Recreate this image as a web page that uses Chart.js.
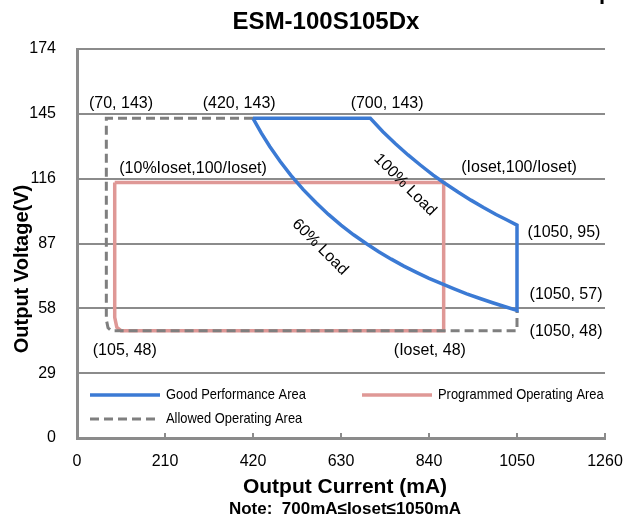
<!DOCTYPE html>
<html>
<head>
<meta charset="utf-8">
<script src="https://cdn.jsdelivr.net/npm/chart.js@4.4.1/dist/chart.umd.min.js"></script>
<style>
  html, body { margin: 0; padding: 0; background: #fff; }
  #wrap { width: 624px; height: 519px; }
</style>
</head>
<body>
<div id="wrap"><canvas id="soa-chart" width="624" height="519"></canvas></div>
<script>
var xTicks = [0, 210, 420, 630, 840, 1050, 1260];
var yTicks = [0, 29, 58, 87, 116, 145, 174];

var seriesNames = ['Good Performance Area', 'Programmed Operating Area', 'Allowed Operating Area'];

// good performance area: flat top, 100% load curve, 1050mA edge, 60% load curve back
var goodCurrent = [420, 560, 700, 730, 760, 790, 820, 850, 875, 910, 940, 970, 1000, 1025, 1050,
  1050, 1020, 990, 960, 930, 900, 870, 840, 810, 780, 750, 720, 690, 660, 630, 600, 570, 540, 510, 485, 460, 440, 420];
var goodVoltage = [143, 143, 143, 137, 131.6, 126.6, 122, 117.6, 114.3, 109.9, 106.4, 103.1, 100, 97.6, 95.2,
  57.1, 58.8, 60.6, 62.5, 64.5, 66.7, 69, 71.4, 74.1, 76.9, 80, 83.3, 87, 90.9, 95.2, 100, 105.3, 111.1, 117.6, 123.7, 130.4, 136.4, 143];

// programmed operating area (Ioset = 875 shown)
var progCurrent = [90, 875, 875, 105, 95, 90, 90];
var progVoltage = [114.3, 114.3, 48, 48, 49.5, 54, 114.3];

// allowed operating area
var allowCurrent = [420, 70, 70, 74, 82, 1050, 1050];
var allowVoltage = [143, 143, 53, 49.3, 48, 48, 57];

var pointLabels = [
  { text: '(70, 143)', x: 105, y: 149.4 },
  { text: '(420, 143)', x: 387, y: 149.4 },
  { text: '(700, 143)', x: 740, y: 149.8 },
  { text: '(10%Ioset,100/Ioset)', x: 277, y: 120.3 },
  { text: '(Ioset,100/Ioset)', x: 1055, y: 120.8 },
  { text: '(1050, 95)', x: 1162, y: 92.1 },
  { text: '(1050, 57)', x: 1167, y: 64 },
  { text: '(1050, 48)', x: 1167, y: 47.4 },
  { text: '(Ioset, 48)', x: 842, y: 38.9 },
  { text: '(105, 48)', x: 114, y: 38.9 },
  { text: '100% Load', x: 783, y: 113.2, rot: Math.PI / 4 },
  { text: '60% Load', x: 580, y: 85.4, rot: Math.PI / 4 }
];

var blue = '#3b7ad4';
var pink = '#df9896';
var gray = '#7f7f7f';
var gridGray = '#8b8b8b';

function pts(xs, ys) {
  return xs.map(function (x, i) { return { x: x, y: ys[i] }; });
}

var extras = {
  id: 'extras',
  afterDraw: function (chart) {
    var ctx = chart.ctx;
    var xs = chart.scales.x, ys = chart.scales.y;
    var area = chart.chartArea;
    ctx.save();

    // small inward tick marks on the x axis
    ctx.strokeStyle = gridGray;
    ctx.lineWidth = 2;
    xTicks.forEach(function (v) {
      var px = xs.getPixelForValue(v);
      ctx.beginPath();
      ctx.moveTo(px, area.bottom);
      ctx.lineTo(px, area.bottom - 5);
      ctx.stroke();
    });

    // point labels
    ctx.fillStyle = '#000';
    ctx.font = '16px "Liberation Sans", Arial, sans-serif';
    ctx.textAlign = 'center';
    ctx.textBaseline = 'middle';
    pointLabels.forEach(function (l) {
      var px = xs.getPixelForValue(l.x), py = ys.getPixelForValue(l.y);
      ctx.save();
      ctx.translate(px, py);
      if (l.rot) ctx.rotate(l.rot);
      ctx.fillText(l.text, 0, 0);
      ctx.restore();
    });

    // legend inside the plot (narrow text, squeezed horizontally)
    var legendPos = [[90, 395], [362, 395], [90, 419]];
    ctx.textAlign = 'left';
    chart.data.datasets.forEach(function (ds) {
      var i = seriesNames.indexOf(ds.label);
      var p = legendPos[i];
      ctx.strokeStyle = ds.borderColor;
      ctx.lineWidth = ds.borderWidth;
      ctx.setLineDash(ds.borderDash || []);
      ctx.beginPath();
      ctx.moveTo(p[0], p[1]);
      ctx.lineTo(p[0] + 70, p[1]);
      ctx.stroke();
      ctx.setLineDash([]);
      ctx.fillStyle = '#000';
      ctx.save();
      ctx.translate(p[0] + 76, p[1]);
      ctx.scale(0.86, 1);
      ctx.font = '15px "Liberation Sans", Arial, sans-serif';
      ctx.fillText(ds.label, 0, 0);
      ctx.restore();
    });

    // titles
    ctx.fillStyle = '#000';
    ctx.textAlign = 'center';
    ctx.font = 'bold 24px "Liberation Sans", Arial, sans-serif';
    ctx.fillText('ESM-100S105Dx', 326, 22);
    ctx.font = 'bold 21px "Liberation Sans", Arial, sans-serif';
    ctx.fillText('Output Current (mA)', 345, 487);
    ctx.font = 'bold 17px "Liberation Sans", Arial, sans-serif';
    ctx.fillText('Note:  700mA\u2264Ioset\u22641050mA', 345, 509);
    ctx.save();
    ctx.translate(22, 269);
    ctx.rotate(-Math.PI / 2);
    ctx.font = 'bold 20px "Liberation Sans", Arial, sans-serif';
    ctx.fillText('Output Voltage(V)', 0, 0);
    ctx.restore();

    // clipped text from the page above
    ctx.textAlign = 'left';
    ctx.textBaseline = 'alphabetic';
    ctx.font = 'bold 22px "Liberation Sans", Arial, sans-serif';
    ctx.fillText('Op', 582, -1);

    ctx.restore();
  }
};

var ctx = document.getElementById('soa-chart').getContext('2d');
var chart = new Chart(ctx, {
  type: 'scatter',
  data: {
    datasets: [{
      label: seriesNames[0],
      data: pts(goodCurrent, goodVoltage),
      borderColor: blue,
      borderWidth: 3.5,
      showLine: true,
      pointRadius: 0,
      tension: 0
    }, {
      label: seriesNames[2],
      data: pts(allowCurrent, allowVoltage),
      borderColor: gray,
      borderWidth: 3,
      borderDash: [9, 5],
      showLine: true,
      pointRadius: 0,
      tension: 0
    }, {
      label: seriesNames[1],
      data: pts(progCurrent, progVoltage),
      borderColor: pink,
      borderWidth: 3.5,
      showLine: true,
      pointRadius: 0,
      tension: 0
    }]
  },
  options: {
    responsive: false,
    animation: false,
    layout: { padding: { top: 49, right: 19, left: 0, bottom: 0 } },
    plugins: {
      legend: { display: false },
      tooltip: { enabled: false },
      title: { display: false }
    },
    scales: {
      x: {
        type: 'linear',
        min: 0,
        max: 1260,
        afterBuildTicks: function (s) { s.ticks = xTicks.map(function (v) { return { value: v }; }); },
        afterFit: function (s) { s.height = 81; s.paddingLeft = 0; s.paddingRight = 0; },
        grid: { display: false, drawTicks: false },
        border: { display: true, color: gridGray, width: 3 },
        ticks: {
          padding: 14,
          maxRotation: 0,
          color: '#000',
          font: { family: '"Liberation Sans", Arial, sans-serif', size: 16 },
          callback: function (v) { return String(v); }
        }
      },
      y: {
        type: 'linear',
        min: 0,
        max: 174,
        afterBuildTicks: function (s) { s.ticks = yTicks.map(function (v) { return { value: v }; }); },
        afterFit: function (s) { s.width = 77; s.paddingTop = 0; s.paddingBottom = 0; },
        grid: { color: gridGray, lineWidth: 2, drawTicks: false },
        border: { display: true, color: gridGray, width: 3 },
        ticks: {
          padding: 21,
          color: '#000',
          font: { family: '"Liberation Sans", Arial, sans-serif', size: 16 },
          callback: function (v) { return String(v); }
        }
      }
    }
  },
  plugins: [extras]
});
</script>
</body>
</html>
